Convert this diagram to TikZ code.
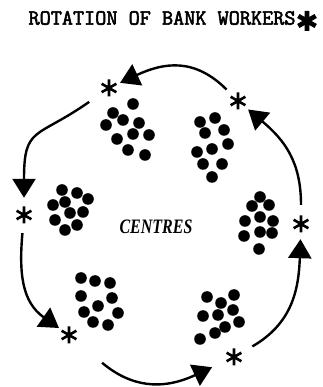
\documentclass[tikz,border=0pt]{standalone}
\usepackage{fontspec}
\usepackage{tikz}
\usetikzlibrary{arrows.meta}
\newfontfamily\typewriterfont[FakeBold=2.6]{Latin Modern Mono}
\newfontfamily\labelfont{Liberation Serif}

\begin{document}
\begin{tikzpicture}[
  x=1pt, y=1pt,
  asterisk/.style={circle, inner sep=0pt, minimum size=20pt,
    path picture={\draw[line width=2.6pt, shift={(path picture bounding box.center)}]
      (90:8.5pt) -- (270:8.5pt) (30:8.5pt) -- (210:8.5pt) (150:8.5pt) -- (330:8.5pt);}},
  keyasterisk/.style={circle, inner sep=0pt, minimum size=24pt,
    path picture={\draw[line width=4.6pt, shift={(path picture bounding box.center)}]
      (90:10pt) -- (270:10pt) (30:10pt) -- (210:10pt) (150:10pt) -- (330:10pt);}},
  rotation/.style={line width=2.4pt, -{Triangle[length=19pt, width=23pt]}},
  worker/.style={fill=black},
  heading/.style={font=\fontsize{21.6}{24}\selectfont\typewriterfont},
  centrelabel/.style={font=\fontsize{20.5}{22}\selectfont\labelfont\bfseries\itshape}
]
\useasboundingbox (0,0) rectangle (322,387);

% Title
\node (title) [heading] at (162,369) {ROTATION OF BANK WORKERS};
\node (key) [keyasterisk] at (307,366) {};

% Label
\node (centres) [centrelabel] at (156,160) {\scalebox{0.78}[1]{CENTRES}};

% Rotation points
\node (tr) [asterisk] at (238,286) {};
\node (tl) [asterisk] at (109,299) {};
\node (l) [asterisk] at (24,172) {};
\node (ll) [asterisk] at (69,52) {};
\node (br) [asterisk] at (234,30) {};
\node (r) [asterisk] at (301,163) {};

% Centres (groups of workers)
\foreach \p in {(133,283),(113,274),(123,267),(106,262),(139,264),(117,248),(133,253),(149,252),(128,237),(145,232)}
  \fill[worker] \p circle (5.8);
\foreach \p in {(200,265),(215,269),(205,254),(224,257),(228,243),(212,238),(197,235),(203,223),(222,223),(212,210)}
  \fill[worker] \p circle (5.8);
\foreach \p in {(62,197),(77,194),(88,188),(65,185),(53,182),(70,174),(83,175),(55,167),(77,162),(65,157)}
  \fill[worker] \p circle (5.8);
\foreach \p in {(260,190),(252,181),(269,182),(260,170),(245,166),(273,166),(260,155),(244,151),(272,154),(259,138)}
  \fill[worker] \p circle (5.8);
\foreach \p in {(81,109),(95,106),(110,104),(81,91),(112,89),(98,81),(84,75),(118,74),(93,65),(108,62)}
  \fill[worker] \p circle (5.8);
\foreach \p in {(207,90),(221,84),(234,92),(203,71),(218,72),(233,77),(239,65),(225,60),(215,54),(200,48)}
  \fill[worker] \p circle (5.8);

% Arrows
\draw [rotation, shorten <=6pt, shorten >=2pt] (tr) to[out=135, in=25, looseness=1.15] (tl);
\draw [rotation, shorten <=14pt, shorten >=7pt] (tl) to[out=215, in=90, looseness=1.5] (l);
\draw [rotation, shorten <=8pt, shorten >=2pt] (l) to[out=265, in=145, looseness=1.1] (ll);
\draw [rotation, shorten <=33pt, shorten >=14pt] (ll) to[out=-40, in=205, looseness=1.2] (br);
\draw [rotation, shorten <=11pt, shorten >=5pt] (br) to[out=30, in=268, looseness=1.1] (r);
\draw [rotation, shorten <=9pt, shorten >=3pt] (r) to[out=90, in=-40, looseness=1.1] (tr);
\end{tikzpicture}
\end{document}
